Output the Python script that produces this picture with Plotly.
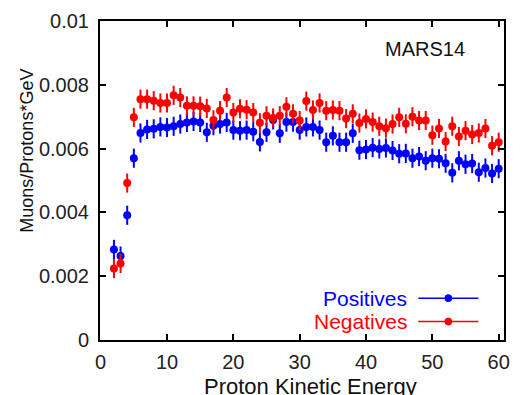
import plotly.graph_objects as go

energy = list(range(2, 61))

positives = [0.00284, 0.00263, 0.00391, 0.00570, 0.00649, 0.00660, 0.00662, 0.00668, 0.00666,
             0.00670, 0.00677, 0.00682, 0.00685, 0.00682, 0.00651, 0.00672, 0.00677, 0.00682,
             0.00658, 0.00656, 0.00658, 0.00653, 0.00621, 0.00651, 0.00690, 0.00648, 0.00683,
             0.00683, 0.00658, 0.00668, 0.00668, 0.00658, 0.00620, 0.00640, 0.00620, 0.00620,
             0.00648, 0.00595, 0.00597, 0.00603, 0.00599, 0.00602, 0.00594, 0.00584, 0.00585,
             0.00570, 0.00575, 0.00562, 0.00570, 0.00568, 0.00554, 0.00524, 0.00562, 0.00551,
             0.00553, 0.00526, 0.00539, 0.00522, 0.00537]

negatives = [0.00224, 0.00240, 0.00492, 0.00698, 0.00755, 0.00755, 0.00750, 0.00743, 0.00743,
             0.00767, 0.00760, 0.00734, 0.00734, 0.00733, 0.00726, 0.00690, 0.00719, 0.00760,
             0.00713, 0.00725, 0.00722, 0.00713, 0.00681, 0.00703, 0.00696, 0.00703, 0.00731,
             0.00709, 0.00688, 0.00749, 0.00721, 0.00743, 0.00719, 0.00721, 0.00719, 0.00694,
             0.00709, 0.00680, 0.00693, 0.00683, 0.00670, 0.00664, 0.00677, 0.00698, 0.00678,
             0.00700, 0.00688, 0.00688, 0.00642, 0.00663, 0.00622, 0.00670, 0.00638, 0.00656,
             0.00644, 0.00649, 0.00663, 0.00609, 0.00620]

pos_err = [0.0003] * len(energy)
neg_err = [0.0003] * len(energy)

y_ticks = [0, 0.002, 0.004, 0.006, 0.008, 0.01]
y_tick_labels = ["0", "0.002", "0.004", "0.006", "0.008", "0.01"]
x_ticks = [0, 10, 20, 30, 40, 50, 60]
x_tick_labels = ["0", "10", "20", "30", "40", "50", "60"]

BLUE = "#0000FF"
RED = "#FF0000"
FONT = "Liberation Sans, Arial, sans-serif"

fig = go.Figure()
fig.add_trace(go.Scatter(
    x=energy, y=positives, mode="markers", name="Positives",
    marker=dict(color=BLUE, size=8, symbol="circle"),
    error_y=dict(type="data", array=pos_err, color=BLUE, thickness=2, width=0),
))
fig.add_trace(go.Scatter(
    x=energy, y=negatives, mode="markers", name="Negatives",
    marker=dict(color=RED, size=8, symbol="circle"),
    error_y=dict(type="data", array=neg_err, color=RED, thickness=2, width=0),
))

L, R, T, B = 100, 10, 20, 55
W, H = 520, 395
pw, ph = W - L - R, H - T - B


def px(x):
    return (x - L) / pw


def py(y):
    return (H - B - y) / ph


annotations = [
    dict(text="MARS14", x=px(472), y=py(48), xref="paper", yref="paper",
         xanchor="right", yanchor="middle", showarrow=False,
         font=dict(family=FONT, size=20, color="#111")),
    dict(text="Positives", x=px(414), y=py(298), xref="paper", yref="paper",
         xanchor="right", yanchor="middle", showarrow=False,
         font=dict(family=FONT, size=21, color=BLUE)),
    dict(text="Negatives", x=px(414), y=py(321.5), xref="paper", yref="paper",
         xanchor="right", yanchor="middle", showarrow=False,
         font=dict(family=FONT, size=21, color=RED)),
    dict(text="Proton Kinetic Energy", x=px(314), y=py(372), xref="paper", yref="paper",
         xanchor="center", yanchor="top", showarrow=False,
         font=dict(family=FONT, size=22, color="#111")),
    dict(text="Muons/Protons*GeV", x=px(26), y=py(150), xref="paper", yref="paper",
         xanchor="center", yanchor="middle", showarrow=False, textangle=-90,
         font=dict(family=FONT, size=18, color="#111")),
]

shapes = []
for yy, col in [(298, BLUE), (321.5, RED)]:
    shapes.append(dict(type="line", xref="paper", yref="paper",
                       x0=px(423), x1=px(484), y0=py(yy), y1=py(yy),
                       line=dict(color=col, width=1.5)))
    shapes.append(dict(type="circle", xref="paper", yref="paper",
                       x0=px(450), x1=px(457), y0=py(yy + 3.5), y1=py(yy - 3.5),
                       fillcolor=col, line=dict(color=col, width=1)))

fig.update_layout(
    width=W, height=H,
    margin=dict(l=L, r=R, t=T, b=B),
    paper_bgcolor="white", plot_bgcolor="white",
    showlegend=False,
    font=dict(family=FONT, size=20, color="#222"),
    annotations=annotations,
    shapes=shapes,
)
fig.update_xaxes(
    range=[-0.1, 60.8], tickvals=x_ticks, ticktext=x_tick_labels,
    showgrid=False, zeroline=False,
    showline=True, linecolor="black", linewidth=2, mirror="ticks",
    ticks="inside", ticklen=6, tickwidth=2, tickcolor="black",
    tickfont=dict(size=20, family=FONT, color="#222"),
    ticklabelstandoff=3,
)
fig.update_yaxes(
    range=[0, 0.01], tickvals=y_ticks, ticktext=y_tick_labels,
    showgrid=False, zeroline=False,
    showline=True, linecolor="black", linewidth=2, mirror="ticks",
    ticks="inside", ticklen=6, tickwidth=2, tickcolor="black",
    tickfont=dict(size=20, family=FONT, color="#222"),
    ticklabelstandoff=5,
)

fig.write_html("out.html")
